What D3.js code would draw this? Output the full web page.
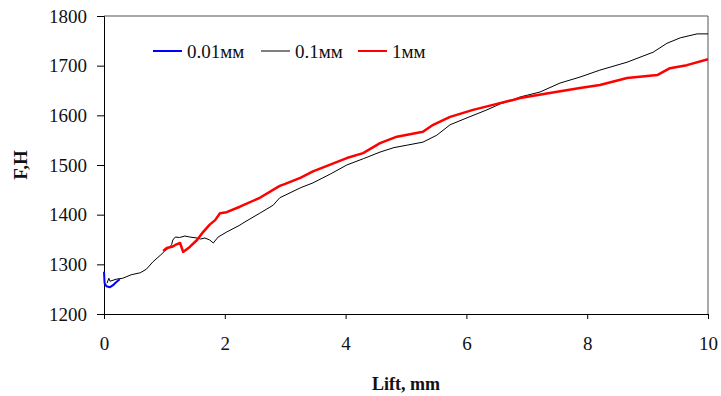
<!DOCTYPE html>
<html><head><meta charset="utf-8">
<script src="https://cdn.jsdelivr.net/npm/d3@7/dist/d3.min.js"></script>
<style>body{margin:0;background:#fff}svg{display:block}</style>
</head><body>
<svg id="c" width="721" height="396"></svg>
<script>
const xTicks = [0, 2, 4, 6, 8, 10];
const yTicks = [1200, 1300, 1400, 1500, 1600, 1700, 1800];
const seriesNames = ["0.01мм", "0.1мм", "1мм"];
const seriesColors = ["#0000ff", "#000000", "#ff0000"];

const blue = [[0,1285],[0.01,1262],[0.04,1256],[0.1,1254],[0.15,1258],[0.2,1264],[0.26,1270]];
const black = [[0.05,1262],[0.08,1272],[0.1,1266],[0.2,1270],[0.31,1272],[0.45,1279],[0.6,1283],[0.7,1290],[0.81,1305],[0.93,1318],[1.0,1326],[1.09,1335],[1.12,1340],[1.14,1349],[1.18,1355],[1.25,1354],[1.34,1357],[1.42,1355],[1.54,1353],[1.6,1351],[1.67,1353],[1.75,1349],[1.81,1343],[1.89,1355],[2.03,1365],[2.25,1379],[2.3,1383],[2.58,1403],[2.8,1419],[2.91,1434],[3.03,1441],[3.25,1454],[3.46,1464],[3.75,1482],[4.02,1500],[4.3,1513],[4.57,1526],[4.8,1535],[5.02,1540],[5.28,1546],[5.51,1560],[5.73,1581],[6.01,1595],[6.34,1611],[6.56,1623],[6.77,1631],[6.89,1637],[7.22,1647],[7.55,1665],[7.88,1677],[8.21,1691],[8.66,1707],[9.09,1727],[9.32,1745],[9.54,1756],[9.82,1764],[10,1764]];
const red = [[0.98,1327],[1.04,1333],[1.14,1336],[1.18,1339],[1.26,1343],[1.31,1325],[1.42,1335],[1.54,1349],[1.64,1365],[1.75,1380],[1.84,1389],[1.92,1403],[2.03,1405],[2.25,1416],[2.58,1434],[2.91,1458],[3.0,1462],[3.25,1474],[3.46,1487],[4.02,1514],[4.29,1524],[4.57,1544],[4.85,1557],[5.28,1567],[5.45,1581],[5.73,1597],[6.11,1611],[6.44,1621],[6.77,1631],[6.89,1635],[7.38,1645],[7.88,1655],[8.21,1661],[8.66,1675],[9.16,1681],[9.37,1695],[9.65,1701],[10,1713]];
const seriesData = [blue, black, red];
const seriesWidths = [2, 1, 2.5];

const L = 104, R = 708, T = 16, B = 314;
const svg = d3.select("#c");
const x = d3.scaleLinear().domain([0, 10]).range([L, R]);
const y = d3.scaleLinear().domain([1200, 1800]).range([B, T]);
const font = "'Liberation Serif','Times New Roman',serif";

// frame
svg.append("path").attr("d", `M${L},${T}H${R}V${B}`).attr("fill","none").attr("stroke","#555").attr("stroke-width",1);

const gx = svg.append("g").attr("transform", `translate(0,${B})`)
  .call(d3.axisBottom(x).tickValues(xTicks).tickSize(5).tickPadding(18).tickFormat(d3.format("d")));
const gy = svg.append("g").attr("transform", `translate(${L},0)`)
  .call(d3.axisLeft(y).tickValues(yTicks).tickSize(7).tickPadding(10).tickFormat(d3.format("d")));
[gx, gy].forEach(g => {
  g.select(".domain").attr("stroke", "#000");
  g.selectAll(".tick line").attr("stroke", "#000");
  g.selectAll("text").attr("font-family", font).attr("font-size", 19).attr("fill", "#111");
});

const line = d3.line().x(d => x(d[0])).y(d => y(d[1]));
[1, 2, 0].forEach(i => {
  svg.append("path").datum(seriesData[i]).attr("d", line)
    .attr("fill","none").attr("stroke", seriesColors[i]).attr("stroke-width", seriesWidths[i])
    .attr("stroke-linejoin","round");
});

// legend
const legX = [153, 261, 358];
seriesNames.forEach((n, i) => {
  svg.append("line").attr("x1", legX[i]).attr("x2", legX[i] + 29).attr("y1", 51).attr("y2", 51)
    .attr("stroke", seriesColors[i]).attr("stroke-width", i === 1 ? 1 : 2);
  svg.append("text").attr("x", legX[i] + 34).attr("y", 51).attr("dy", "0.35em")
    .attr("font-family", font).attr("font-size", 19).attr("fill", "#111").text(n);
});

svg.append("text").attr("x", (L + R) / 2).attr("y", 390).attr("text-anchor","middle")
  .attr("font-family", font).attr("font-weight","bold").attr("font-size", 18).attr("fill","#111").text("Lift, mm");
svg.append("text").attr("transform", `translate(27,${(T + B) / 2}) rotate(-90)`).attr("text-anchor","middle")
  .attr("font-family", font).attr("font-weight","bold").attr("font-size", 19).attr("fill","#111").text("F,H");
</script>
</body></html>
